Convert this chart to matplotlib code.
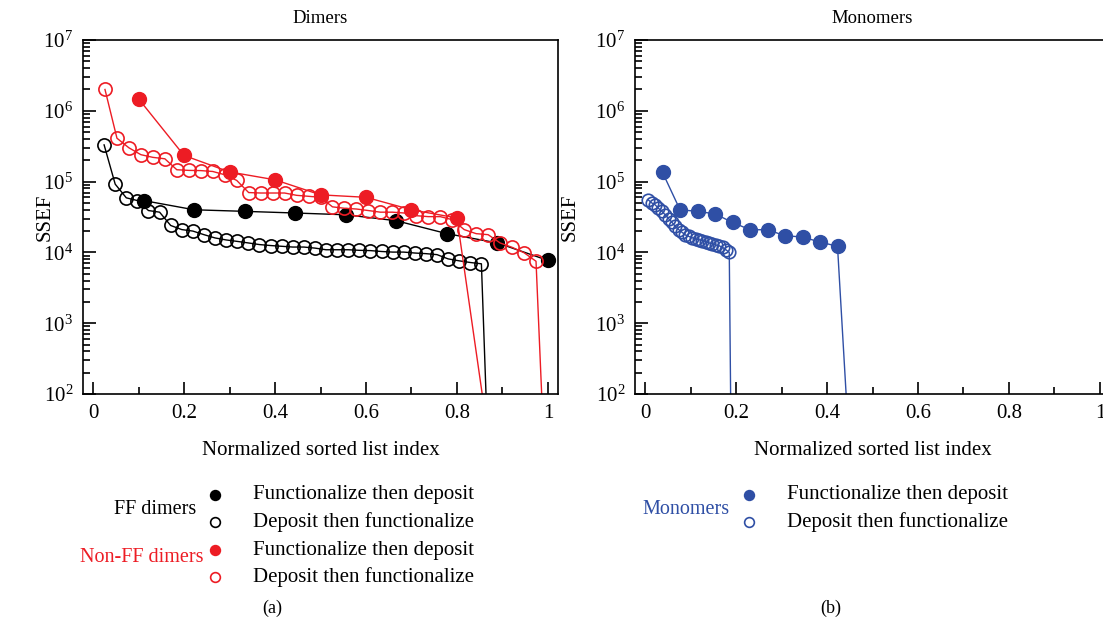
import numpy as np
import matplotlib
matplotlib.use('Agg')
import matplotlib.pyplot as plt
from matplotlib.ticker import LogLocator, MultipleLocator, NullFormatter, FixedFormatter

# --- data (last value of each series is the drop below the axis) ---
ff_fd_n = 9
ff_fd = [5.4e4, 4.0e4, 3.8e4, 3.6e4, 3.4e4, 2.8e4, 1.84e4, 1.36e4, 7.7e3]

ff_df_n = 41
ff_df = [3.3e5, 9.2e4, 5.9e4, 5.4e4, 3.9e4, 3.7e4, 2.4e4, 2.1e4, 2.0e4, 1.78e4,
         1.6e4, 1.5e4, 1.43e4, 1.36e4, 1.29e4, 1.25e4, 1.22e4, 1.19e4, 1.19e4, 1.15e4,
         1.09e4, 1.09e4, 1.09e4, 1.07e4, 1.06e4, 1.03e4, 1.01e4, 1.01e4, 9.8e3, 9.6e3,
         9.3e3, 8.1e3, 7.6e3, 7.2e3, 6.9e3, 0.25]

nff_fd_n = 10
nff_fd = [1.48e6, 2.34e5, 1.37e5, 1.06e5, 6.5e4, 6.0e4, 4.0e4, 3.06e4, 1.0]

nff_df_n = 38
nff_df = [2.0e6, 4.1e5, 3.0e5, 2.4e5, 2.2e5, 2.1e5, 1.47e5, 1.44e5, 1.43e5, 1.39e5,
          1.25e5, 1.04e5, 7.0e4, 6.9e4, 6.9e4, 6.9e4, 6.4e4, 6.2e4, 6.0e4, 4.4e4,
          4.2e4, 4.1e4, 3.9e4, 3.7e4, 3.7e4, 3.6e4, 3.3e4, 3.2e4, 3.2e4, 2.9e4,
          2.1e4, 1.84e4, 1.78e4, 1.36e4, 1.18e4, 9.9e3, 7.5e3, 0.8]

mono_fd_n = 26
mono_fd = [1.35e5, 4.0e4, 3.8e4, 3.5e4, 2.65e4, 2.09e4, 2.09e4, 1.72e4, 1.65e4, 1.40e4,
           1.22e4, 0.7]

mono_df_n = 135
mono_df = [5.5e4, 5.0e4, 4.7e4, 4.2e4, 3.8e4, 3.4e4, 3.0e4, 2.66e4, 2.33e4, 2.1e4,
           1.92e4, 1.76e4, 1.68e4, 1.61e4, 1.55e4, 1.51e4, 1.47e4, 1.42e4, 1.36e4, 1.32e4,
           1.27e4, 1.24e4, 1.18e4, 1.09e4, 1.0e4, 0.1]

xticks = [0, 0.2, 0.4, 0.6, 0.8, 1]
xticklabels = ['0', '0.2', '0.4', '0.6', '0.8', '1']

RED = '#ed1c24'
BLUE = '#2f4fa5'

plt.rcParams['font.family'] = ['Liberation Serif', 'DejaVu Serif']
plt.rcParams['mathtext.fontset'] = 'stix'

W, H = 1103, 626
FS = 15
fig = plt.figure(figsize=(W / 100, H / 100), dpi=100)


def idx(vals, n):
    return np.arange(1, len(vals) + 1) / n


def setup(ax, title, ylabel_x):
    ax.set_yscale('log')
    ax.set_ylim(1e2, 1e7)
    ax.set_xlim(-0.022, 1.022)
    ax.set_xticks(xticks)
    ax.xaxis.set_major_formatter(FixedFormatter(xticklabels))
    ax.xaxis.set_minor_locator(MultipleLocator(0.1))
    ax.yaxis.set_major_locator(LogLocator(base=10, numticks=10))
    ax.yaxis.set_minor_locator(LogLocator(base=10, subs=np.arange(2, 10), numticks=20))
    ax.yaxis.set_minor_formatter(NullFormatter())
    ax.tick_params(which='both', direction='in', top=False, right=False,
                   labelsize=FS, width=1.2, pad=7)
    ax.tick_params(which='major', length=9)
    ax.tick_params(which='minor', length=5)
    for s in ax.spines.values():
        s.set_linewidth(1.2)
    ax.set_title(title, fontsize=13.5, pad=12)
    ax.set_xlabel('Normalized sorted list index', fontsize=FS, labelpad=13)
    ax.set_ylabel('SSEF', fontsize=FS)
    ax.yaxis.set_label_coords(ylabel_x, 0.5)


ax1 = fig.add_axes([83 / W, 1 - 394 / H, 475 / W, 354 / H])
setup(ax1, 'Dimers', -28 / 475)
ax1.plot(idx(ff_df, ff_df_n), ff_df, '-o', color='black', mfc='none', ms=9.5, mew=1.2, lw=1)
ax1.plot(idx(ff_fd, ff_fd_n), ff_fd, '-o', color='black', ms=10, lw=1)
ax1.plot(idx(nff_df, nff_df_n), nff_df, '-o', color=RED, mfc='none', ms=9.5, mew=1.2, lw=1)
ax1.plot(idx(nff_fd, nff_fd_n), nff_fd, '-o', color=RED, ms=10, lw=1)

ax2 = fig.add_axes([635 / W, 1 - 394 / H, 475 / W, 354 / H])
setup(ax2, 'Monomers', -55 / 475)
ax2.plot(idx(mono_fd, mono_fd_n), mono_fd, '-o', color=BLUE, ms=10, lw=1)
ax2.plot(idx(mono_df, mono_df_n), mono_df, '-o', color=BLUE, mfc='none', ms=9, mew=1.2, lw=1)

# legend block drawn in pixel coordinates
ov = fig.add_axes([0, 0, 1, 1])
ov.set_xlim(0, W)
ov.set_ylim(H, 0)
ov.axis('off')

fd_txt = 'Functionalize then deposit'
df_txt = 'Deposit then functionalize'
legend_rows = [
    (215, 495, 'black', True, fd_txt),
    (215, 522, 'black', False, df_txt),
    (215, 550, RED, True, fd_txt),
    (215, 577, RED, False, df_txt),
    (749, 495, BLUE, True, fd_txt),
    (749, 522, BLUE, False, df_txt),
]
for mx, my, c, filled, label in legend_rows:
    ov.plot([mx], [my], 'o', color=c, mfc=c if filled else 'white', ms=7, mew=1.2)
    ov.text(mx + 38, my, label, fontsize=FS, va='center', ha='left')

ov.text(196, 509, 'FF dimers', fontsize=14.5, va='center', ha='right')
ov.text(204, 558, 'Non-FF dimers', fontsize=14.5, va='center', ha='right', color=RED)
ov.text(730, 509, 'Monomers', fontsize=14.5, va='center', ha='right', color=BLUE)
ov.text(272, 608, '(a)', fontsize=13, va='center', ha='center')
ov.text(831, 608, '(b)', fontsize=13, va='center', ha='center')

fig.savefig('out.png', dpi=100)
